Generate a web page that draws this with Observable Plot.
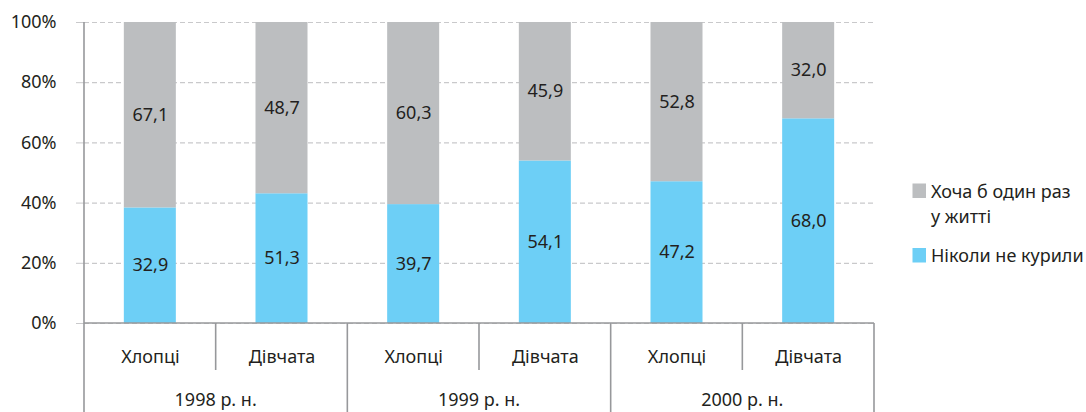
<!DOCTYPE html>
<html><head><meta charset="utf-8">
<script src="https://cdn.jsdelivr.net/npm/d3@7"></script>
<script src="https://cdn.jsdelivr.net/npm/@observablehq/plot@0.6"></script>
<style>body{margin:0;background:#fff;}</style>
</head><body><div id="chart"></div>
<script>
const years = ["1998 р. н.", "1999 р. н.", "2000 р. н."];
const groups = ["Хлопці", "Дівчата"];
const series = ["Ніколи не курили", "Хоча б один раз у житті"];
const seriesColors = ["#6dcff6", "#bcbec0"];
// bar heights as drawn in the picture (percent)
const neverValues = [38.4, 43.1, 39.5, 54.0, 47.1, 68.0];
const everValues = [61.6, 56.9, 60.5, 46.0, 52.9, 32.0];
// value labels as printed
const neverLabels = ["32,9", "51,3", "39,7", "54,1", "47,2", "68,0"];
const everLabels = ["67,1", "48,7", "60,3", "45,9", "52,8", "32,0"];
const yTicks = [0, 20, 40, 60, 80, 100];
const legendLines = [["Хоча б один раз", "у житті"], ["Ніколи не курили"]];

const keys = years.flatMap(y => groups.map(g => y + "|" + g));
const rows = [];
keys.forEach((k, i) => {
  rows.push({key: k, series: series[0], value: neverValues[i], label: neverLabels[i]});
  rows.push({key: k, series: series[1], value: everValues[i], label: everLabels[i]});
});

const textColor = "#231f20";
const lineColor = "#97989b";

function hierarchy(index, scales, values, dims) {
  const x = scales.x, y = scales.y, color = scales.color;
  const step = x(keys[1]) - x(keys[0]);
  const bw = typeof x.bandwidth === "function" ? x.bandwidth() : x.bandwidth;
  const gap = (step - bw) / 2;
  const left = i => x(keys[i]) - gap;
  const y0 = y(0), yTop = y(100), bottom = dims.height;
  const g = d3.create("svg:g");
  const lines = g.append("g").attr("stroke", lineColor).attr("stroke-width", 1.6).attr("fill", "none");
  // y axis line + year separators
  lines.append("line").attr("x1", left(0)).attr("x2", left(0)).attr("y1", yTop).attr("y2", bottom);
  [2, 4].forEach(i => lines.append("line").attr("x1", left(i)).attr("x2", left(i)).attr("y1", y0).attr("y2", bottom));
  const right = left(5) + step;
  lines.append("line").attr("x1", right).attr("x2", right).attr("y1", y0).attr("y2", bottom);
  // group separators
  [1, 3, 5].forEach(i => lines.append("line").attr("x1", left(i)).attr("x2", left(i)).attr("y1", y0).attr("y2", y0 + 47));
  // baseline
  lines.append("line").attr("x1", left(0)).attr("x2", right).attr("y1", y0).attr("y2", y0);
  // year labels
  years.forEach((yr, j) => {
    g.append("text").attr("x", left(2 * j) + step).attr("y", y0 + 83)
      .attr("text-anchor", "middle").attr("fill", textColor).attr("font-size", 18).text(yr);
  });
  // legend
  const lg = g.append("g").attr("fill", textColor).attr("text-anchor", "start").attr("font-size", 18);
  const items = [{s: series[1], lines: legendLines[0], top: 183.5}, {s: series[0], lines: legendLines[1], top: 248}];
  items.forEach(it => {
    lg.append("rect").attr("x", 912.5).attr("y", it.top).attr("width", 13.5).attr("height", 14.5).attr("fill", color(it.s));
    it.lines.forEach((t, li) => {
      lg.append("text").attr("x", 931).attr("y", it.top + 14 + li * 25).attr("text-anchor", "start").text(t);
    });
  });
  return g.node();
}

const chart = Plot.plot({
  width: 1086,
  height: 412,
  marginLeft: 84,
  marginRight: 212,
  marginTop: 22,
  marginBottom: 89,
  style: {fontFamily: "'Noto Sans', sans-serif", fontSize: "18px", color: textColor, background: "#fff"},
  x: {domain: keys, paddingInner: 0.605, paddingOuter: 0.3025, round: false, label: null},
  y: {domain: [0, 100], label: null},
  color: {domain: series, range: seriesColors},
  marks: [
    Plot.gridY(yTicks, {stroke: "#c9c9cb", strokeOpacity: 1, strokeWidth: 1.2, strokeDasharray: "5,3"}),
    Plot.barY(rows, Plot.stackY({x: "key", y: "value", fill: "series"})),
    Plot.text(rows, Plot.stackY({x: "key", y: "value", text: "label", fill: textColor, fontSize: 18})),
    Plot.axisY({ticks: yTicks, tickFormat: d => d + "%", tickSize: 8, tickPadding: 20, stroke: "#c9c9cb", fill: textColor, label: null, fontSize: 18}),
    Plot.axisX({tickSize: 0, tickPadding: 27, tickFormat: k => k.split("|")[1], fill: textColor, label: null, fontSize: 18}),
    hierarchy
  ]
});
document.getElementById("chart").appendChild(chart);
</script>
</body></html>
